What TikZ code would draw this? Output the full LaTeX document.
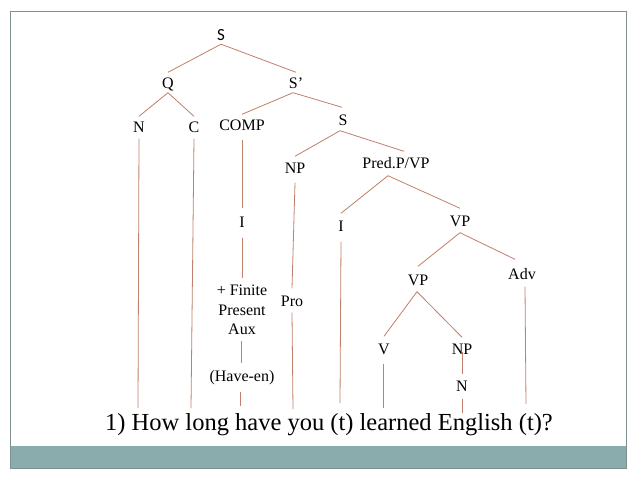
\documentclass[tikz,border=0pt]{standalone}
\usepackage{fontspec}
\setmainfont{Liberation Serif}
\newfontfamily\carl{Carlito}
\definecolor{edge}{HTML}{C0806A}
\definecolor{band}{HTML}{8AACAC}
\definecolor{frame}{HTML}{7F9090}
\begin{document}
\begin{tikzpicture}[x=1pt,y=-1pt,
  tn/.style={font=\fontsize{16}{19.5}\selectfont, inner xsep=0pt, inner ysep=5pt, text height=11pt, text depth=0pt, anchor=center},
  br/.style={draw=edge, line width=0.8pt}]
\useasboundingbox (0,0) rectangle (638,479);
\fill[white] (0,0) rectangle (638,479);
\fill[band] (10,446) rectangle (626,468);
\draw[frame, line width=0.8pt] (10,11) rectangle (626,468);

\node[font=\carl\fontsize{17}{19}\selectfont, inner sep=4pt, text height=10pt, text depth=0pt] (S) at (221,35) {S};
\node[tn] (Q) at (168,83) {Q};
\node[tn] (Sp) at (296,83) {S’};
\node[tn] (N) at (139,127) {N};
\node[tn] (C) at (194,127) {C};
\node[tn] (COMP) at (242,125) {COMP};
\node[tn] (S2) at (343,120) {S};
\node[tn] (NP) at (295,168) {NP};
\node[tn] (Pred) at (396,163) {Pred.P/VP};
\node[tn] (I) at (242,222) {I};
\node[tn] (I2) at (341,226) {I};
\node[tn] (VP) at (460,221) {VP};
\node[tn, align=center, text height=, text depth=] (Fin) at (242,310) {+ Finite\\Present\\Aux};
\node[tn] (Have) at (242,376) {(Have-en)};
\node[tn] (Pro) at (292,301) {Pro};
\node[tn] (VP2) at (418,280) {VP};
\node[tn] (Adv) at (522,274) {Adv};
\node[tn] (V) at (384,349) {V};
\node[tn] (NP2) at (462,349) {NP};
\node[tn] (N2) at (462,386) {N};

\node[font=\fontsize{24.5}{28}\selectfont, inner sep=0pt, anchor=base] (sent) at (329,430) {1) How long have you (t) learned English (t)?};

\coordinate (wHow) at (138,408);
\coordinate (wlong) at (191,408);
\coordinate (whave) at (240,406);
\coordinate (wyou) at (293,409);
\coordinate (wt1) at (340,403);
\coordinate (wlearned) at (383,408);
\coordinate (wEnglish) at (462,413);
\coordinate (wt2) at (526,404);

\draw[br] (S.south) -- (Q.north);
\draw[br] (S.south) -- (Sp.north);
\draw[br] ([yshift=1pt]Q.south) -- (N.north);
\draw[br] ([yshift=1pt]Q.south) -- (C.north);
\draw[br] ([xshift=-3pt,yshift=1pt]Sp.south) -- (COMP.north);
\draw[br] ([xshift=-3pt,yshift=1pt]Sp.south) -- ([xshift=-1pt,yshift=2pt]S2.north);
\draw[br] ([xshift=-3pt]S2.south) -- ([yshift=1pt]NP.north);
\draw[br] ([xshift=-3pt]S2.south) -- ([xshift=8pt,yshift=1pt]Pred.north);
\draw[br] ([xshift=-8pt,yshift=-2pt]Pred.south) -- ([yshift=2pt]I2.north);
\draw[br] ([xshift=-8pt,yshift=-2pt]Pred.south) -- ([yshift=2pt]VP.north);
\draw[br] ([yshift=-4pt]COMP.south) -- ([yshift=3pt]I.north);
\draw[br] ([yshift=-5pt]I.south) -- ([yshift=2pt]Fin.north);
\draw[br] ([xshift=-1pt,yshift=-1pt]Fin.south) -- ([xshift=-1pt,yshift=2pt]Have.north);
\draw[br] ([xshift=-2pt,yshift=-5pt]Have.south) -- (whave);
\draw[br] ([yshift=-4pt]NP.south) -- ([yshift=2pt]Pro.north);
\draw[br] ([yshift=-1pt]Pro.south) -- (wyou);
\draw[br] ([yshift=-1pt]N.south) -- (wHow);
\draw[br] ([yshift=-1pt]C.south) -- (wlong);
\draw[br] ([yshift=-5pt]I2.south) -- (wt1);
\draw[br] ([yshift=-1pt]VP.south) -- ([yshift=3pt]VP2.north);
\draw[br] ([yshift=-1pt]VP.south) -- ([xshift=-7pt,yshift=4pt]Adv.north);
\draw[br] ([xshift=-1pt,yshift=-1pt]VP2.south) -- ([yshift=2pt]V.north);
\draw[br] ([xshift=-1pt,yshift=-1pt]VP2.south) -- ([yshift=1pt]NP2.north);
\draw[br] ([yshift=-3pt]NP2.center) -- ([yshift=1pt]N2.north);
\draw[br] ([xshift=-1pt,yshift=-4pt]V.south) -- (wlearned);
\draw[br] ([yshift=-2pt]N2.south) -- (wEnglish);
\draw[br] ([xshift=3pt,yshift=-2pt]Adv.south) -- (wt2);
\end{tikzpicture}
\end{document}
